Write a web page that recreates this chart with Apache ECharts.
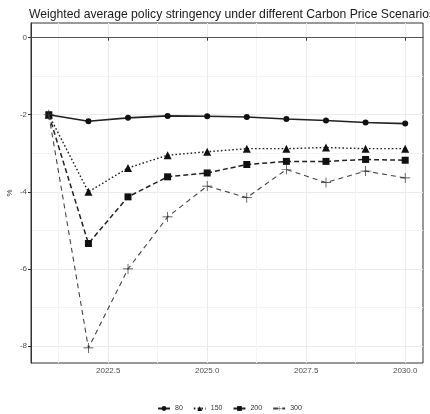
<!DOCTYPE html>
<html><head><meta charset="utf-8">
<script src="https://cdn.jsdelivr.net/npm/echarts@6/dist/echarts.min.js"></script>
<style>html,body{margin:0;padding:0;background:#fff}#c{width:430px;height:414px}</style>
</head><body><div id="c"></div>
<script>
const years = [2021, 2022, 2023, 2024, 2025, 2026, 2027, 2028, 2029, 2030];
const s80  = [-2.00, -2.17, -2.08, -2.03, -2.04, -2.06, -2.11, -2.15, -2.20, -2.23];
const s150 = [-2.00, -4.00, -3.38, -3.05, -2.96, -2.88, -2.88, -2.85, -2.88, -2.88];
const s200 = [-2.00, -5.34, -4.13, -3.61, -3.51, -3.29, -3.21, -3.21, -3.16, -3.18];
const s300 = [-2.00, -8.05, -6.00, -4.65, -3.85, -4.15, -3.42, -3.76, -3.46, -3.64];
const seriesNames = ['80', '150', '200', '300'];
const xTicks = [2022.5, 2025.0, 2027.5, 2030.0];
const xMinor = [2021.25, 2023.75, 2026.25, 2028.75];
const yTicks = [-8, -6, -4, -2, 0];
const yMinor = [-7, -5, -3, -1];

const pair = arr => years.map((y, i) => [y, arr[i]]);
const font = 'Liberation Sans, Arial, sans-serif';
const plusPath = 'path://M-0.07,-1H0.07V-0.07H1V0.07H0.07V1H-0.07V0.07H-1V-0.07H-0.07Z';

const chart = echarts.init(document.getElementById('c'), null, {renderer: 'canvas'});
chart.setOption({
  animation: false,
  backgroundColor: '#fff',
  title: {
    text: 'Weighted average policy stringency under different Carbon Price Scenarios',
    left: 24, top: 4,
    textStyle: {fontFamily: font, fontSize: 12.2, fontWeight: 'normal', color: '#1a1a1a'}
  },
  grid: {left: 31, right: 7, top: 23, bottom: 51, show: true, borderColor: '#333', borderWidth: 1,
         backgroundColor: '#fff', outerBoundsMode: 'none', containLabel: false},
  legend: {
    data: seriesNames, top: 405, left: 157, itemWidth: 12, itemHeight: 6, itemGap: 10, padding: 0,
    textStyle: {fontFamily: font, fontSize: 7, color: '#333'}
  },
  xAxis: [{
    type: 'value', min: 2020.55, max: 2030.45,
    axisLine: {show: true, lineStyle: {color: '#333'}},
    axisTick: {show: true, length: 3, customValues: xTicks, lineStyle: {color: '#333'}},
    axisLabel: {customValues: xTicks, formatter: v => v.toFixed(1), fontFamily: font, fontSize: 8, color: '#4d4d4d', margin: 4},
    splitLine: {show: true, lineStyle: {color: '#ebebeb', width: 1}}
  }, {
    type: 'value', min: 2020.55, max: 2030.45, position: 'top',
    axisLine: {show: false}, axisTick: {show: false, customValues: xMinor},
    axisLabel: {show: false, customValues: xMinor},
    splitLine: {show: true, lineStyle: {color: '#f4f4f4', width: 1}}
  }],
  yAxis: [{
    type: 'value', min: -8.44, max: 0.38,
    name: '%', nameLocation: 'middle', nameGap: 17, nameRotate: 90, nameMoveOverlap: false,
    nameTextStyle: {fontFamily: font, fontSize: 8, color: '#333'},
    axisLine: {show: true, lineStyle: {color: '#333'}},
    axisTick: {show: true, length: 3, customValues: yTicks, lineStyle: {color: '#333'}},
    axisLabel: {customValues: yTicks, fontFamily: font, fontSize: 8, color: '#4d4d4d', margin: 4},
    splitLine: {show: true, lineStyle: {color: '#ebebeb', width: 1}}
  }, {
    type: 'value', min: -8.44, max: 0.38, position: 'right',
    axisLine: {show: false}, axisTick: {show: false, customValues: yMinor},
    axisLabel: {show: false, customValues: yMinor},
    splitLine: {show: true, lineStyle: {color: '#f4f4f4', width: 1}}
  }],
  series: [{
    name: '80', type: 'line', data: pair(s80), symbol: 'circle', symbolSize: 6,
    itemStyle: {color: '#111'}, lineStyle: {color: '#222', width: 1.6, type: 'solid'},
    markLine: {silent: true, symbol: 'none', label: {show: false},
      lineStyle: {color: '#555', width: 1, type: 'solid'}, data: [{yAxis: 0}]},
    z: 3
  }, {
    name: '150', type: 'line', data: pair(s150), symbol: 'triangle', symbolSize: 8,
    itemStyle: {color: '#111'}, lineStyle: {color: '#222', width: 1.4, type: [1.6, 2.2]},
    z: 4
  }, {
    name: '200', type: 'line', data: pair(s200), symbol: 'rect', symbolSize: 7,
    itemStyle: {color: '#111'}, lineStyle: {color: '#222', width: 1.5, type: [5, 3]},
    z: 5
  }, {
    name: '300', type: 'line', data: pair(s300), symbol: plusPath, symbolSize: 10,
    itemStyle: {color: '#333'}, lineStyle: {color: '#444', width: 1.1, type: [5, 4]},
    z: 6
  }]
});
</script></body></html>
